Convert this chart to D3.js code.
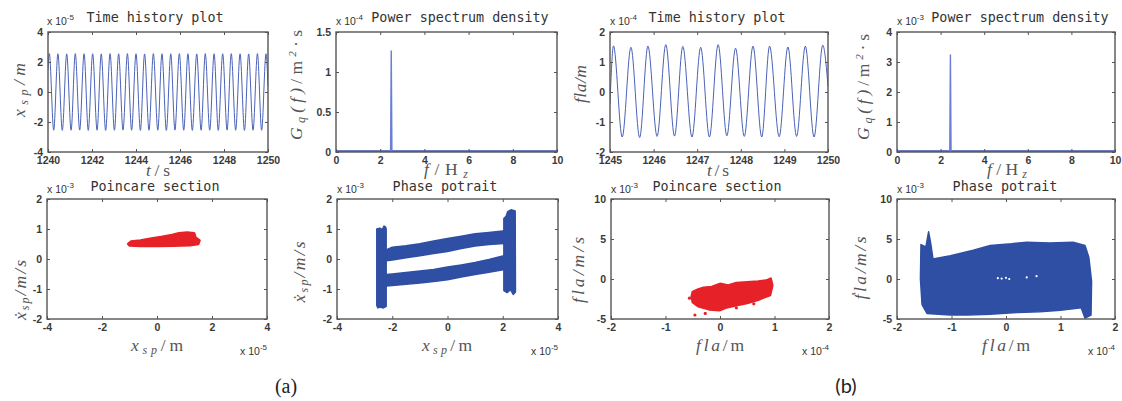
<!DOCTYPE html>
<html>
<head>
<meta charset="utf-8">
<script src="https://cdn.jsdelivr.net/npm/d3@7"></script>
<style>
  body { margin: 0; background: #fff; }
  svg { display: block; }
  .tick text { font-family: "Liberation Sans", Arial, sans-serif; font-size: 10.5px; font-weight: bold; fill: #3a3a3a; }
  .tick line { stroke: #555; }
  .title { font-family: "DejaVu Sans Mono", monospace; font-size: 13.4px; fill: #333; }
  .expo { font-family: "Liberation Sans", Arial, sans-serif; font-size: 10.5px; fill: #333; }
  .lbl { font-family: "Liberation Serif", "DejaVu Serif", serif; font-size: 17.5px; fill: #555; font-style: italic; }
  .up { font-style: normal; }
</style>
</head>
<body>
<svg id="fig" width="1122" height="401"></svg>
<script>
// ---- data ----

// time history (a), x_sp in 1e-5 m : peaks / troughs
var timeA_t = [1240.00, 1240.06, 1240.26, 1240.45, 1240.65, 1240.85, 1241.05, 1241.24, 1241.44, 1241.64,
  1241.83, 1242.03, 1242.23, 1242.42, 1242.62, 1242.82, 1243.02, 1243.21, 1243.41, 1243.61,
  1243.80, 1244.00, 1244.20, 1244.39, 1244.59, 1244.79, 1244.99, 1245.18, 1245.38, 1245.58,
  1245.77, 1245.97, 1246.17, 1246.36, 1246.56, 1246.76, 1246.96, 1247.15, 1247.35, 1247.55,
  1247.74, 1247.94, 1248.14, 1248.33, 1248.53, 1248.73, 1248.93, 1249.12, 1249.32, 1249.52,
  1249.71, 1249.91, 1250.00];
var timeA_v = [1.5, 2.56, -2.55, 2.55, -2.56, 2.54, -2.55, 2.56, -2.54, 2.55,
  -2.56, 2.55, -2.55, 2.54, -2.56, 2.56, -2.55, 2.55, -2.54, 2.56,
  -2.55, 2.55, -2.56, 2.54, -2.55, 2.56, -2.55, 2.55, -2.56, 2.55,
  -2.54, 2.56, -2.55, 2.55, -2.56, 2.54, -2.55, 2.56, -2.55, 2.55,
  -2.56, 2.55, -2.54, 2.56, -2.55, 2.55, -2.56, 2.54, -2.55, 2.56,
  -2.55, 2.55, 0.4];

// time history (b), fla in 1e-4 m
var timeB_t = [1245.00, 1245.08, 1245.28, 1245.48, 1245.68, 1245.87, 1246.08, 1246.28, 1246.48, 1246.67,
  1246.88, 1247.08, 1247.28, 1247.48, 1247.68, 1247.88, 1248.08, 1248.28, 1248.48, 1248.66,
  1248.88, 1249.08, 1249.28, 1249.48, 1249.68, 1249.88, 1250.00];
var timeB_v = [-0.4, 1.54, -1.50, 1.49, -1.52, 1.53, -1.48, 1.58, -1.47, 1.52,
  -1.50, 1.49, -1.50, 1.58, -1.46, 1.46, -1.48, 1.53, -1.50, 1.53,
  -1.49, 1.50, -1.48, 1.53, -1.50, 1.56, 0.2];

// power spectrum density
var psdA_f = [0, 2.47, 2.5, 2.53, 7.47, 7.5, 7.53, 10];
var psdA_v = [0, 0, 1.27, 0, 0, 0.01, 0, 0];   // 1e-4
var psdB_f = [0, 2.42, 2.45, 2.48, 10];
var psdB_v = [0, 0, 3.25, 0, 0];               // 1e-3

// poincare section (a): outline of the red cloud [x 1e-5, v 1e-3]
var poincareA = [[-1.05, 0.50], [-0.95, 0.58], [-0.6, 0.62], [-0.2, 0.68], [0.2, 0.74], [0.55, 0.80],
  [0.8, 0.86], [1.1, 0.88], [1.35, 0.86], [1.4, 0.72], [1.55, 0.62], [1.5, 0.50], [1.2, 0.46],
  [0.6, 0.44], [0, 0.43], [-0.6, 0.43], [-1.0, 0.45]];

// phase portrait (a)
var phaseA_left = [[-2.56, -1.55], [-2.56, 1.0], [-2.45, 1.03], [-2.36, 0.98], [-2.3, 1.1], [-2.24, 1.06],
  [-2.22, 1.0], [-2.22, -1.58], [-2.32, -1.63], [-2.45, -1.6], [-2.52, -1.63]];
var phaseA_right = [[2.04, -1.05], [2.04, 1.35], [2.12, 1.42], [2.18, 1.58], [2.3, 1.64], [2.45, 1.6],
  [2.46, -1.1], [2.38, -1.18], [2.28, -1.02], [2.16, -1.12]];
var phaseA_upper = [[-2.22, 0.30], [-2.0, 0.39], [-1.5, 0.44], [-1.0, 0.51], [-0.5, 0.60], [0, 0.68],
  [0.5, 0.76], [1.0, 0.84], [1.5, 0.88], [2.0, 0.93], [2.06, 0.93], [2.06, 0.52], [1.5, 0.48],
  [1.0, 0.43], [0.5, 0.35], [0, 0.25], [-0.5, 0.18], [-1.0, 0.11], [-1.5, 0.04], [-2.0, -0.03],
  [-2.22, -0.06]];
var phaseA_lower = [[-2.22, -0.52], [-2.0, -0.50], [-1.5, -0.45], [-1.0, -0.40], [-0.5, -0.35], [0, -0.27],
  [0.5, -0.20], [1.0, -0.12], [1.5, -0.02], [2.0, 0.10], [2.06, 0.12], [2.06, -0.35], [1.5, -0.44],
  [1.0, -0.52], [0.5, -0.60], [0, -0.69], [-0.5, -0.75], [-1.0, -0.80], [-1.5, -0.84], [-2.0, -0.88],
  [-2.22, -0.90]];

// poincare section (b) [x 1e-4, v 1e-3]
var poincareB = [[-0.52, -2.2], [-0.5, -1.6], [-0.4, -1.3], [-0.3, -1.1], [-0.15, -1.0], [0, -0.6],
  [0.15, -0.8], [0.3, -0.5], [0.5, -0.4], [0.7, -0.3], [0.85, -0.2], [0.93, 0.05], [0.96, -0.8],
  [0.92, -2.0], [0.7, -2.6], [0.5, -3.0], [0.3, -3.3], [0.1, -3.6], [0, -3.9], [-0.2, -3.8],
  [-0.4, -3.4], [-0.5, -2.9]];
var poincareB_dots = [[-0.46, -4.5], [-0.27, -4.3], [-0.56, -2.4], [0.3, -3.6], [0.62, -3.1]];

// phase portrait (b)
var phaseB = [[-1.56, 4.3], [-1.47, 4.0], [-1.42, 5.9], [-1.38, 4.4], [-1.34, 2.5], [-1.02, 2.9],
  [-0.6, 3.6], [-0.29, 4.2], [0.1, 4.4], [0.38, 4.6], [0.8, 4.5], [1.23, 4.6], [1.45, 4.2],
  [1.52, 2.7], [1.57, -0.3], [1.56, -4.5], [1.45, -4.9], [1.38, -3.6], [1.0, -3.9], [0.62, -4.1],
  [0.2, -4.2], [-0.29, -4.4], [-0.7, -4.5], [-1.02, -4.5], [-1.45, -4.3], [-1.54, -3.2], [-1.57, 0]];
var phaseB_holes = [[-0.15, 0.1], [-0.08, 0.05], [0.0, 0.15], [0.06, 0.0], [0.38, 0.2], [0.56, 0.35]];

// tick labels
var ticksTA = [1240, 1242, 1244, 1246, 1248, 1250];
var ticksTB = [1245, 1246, 1247, 1248, 1249, 1250];
var ticksF = [0, 2, 4, 6, 8, 10];
var ticksX4 = [-4, -2, 0, 2, 4];
var ticksX2 = [-2, -1, 0, 1, 2];
var ticksY4 = [-4, -2, 0, 2, 4];
var ticksY2 = [-2, -1, 0, 1, 2];
var ticksPsdA = [0, 0.5, 1, 1.5];
var ticksPsdB = [0, 1, 2, 3, 4];
var ticksV10 = [-5, 0, 5, 10];

var svg = d3.select("#fig");
var blue = "#2e4fa3";
var red = "#e62228";
var clipN = 0;

function makePanel(b, xDom, yDom) {
  var w = b[2] - b[0], h = b[3] - b[1];
  var g = svg.append("g").attr("transform", "translate(" + b[0] + "," + b[1] + ")");
  var id = "clip" + (clipN++);
  g.append("clipPath").attr("id", id).append("rect").attr("width", w).attr("height", h);
  var plot = g.append("g").attr("clip-path", "url(#" + id + ")");
  return {
    g: g, plot: plot, w: w, h: h,
    x: d3.scaleLinear().domain(xDom).range([0, w]),
    y: d3.scaleLinear().domain(yDom).range([h, 0])
  };
}

function frame(p, xt, yt) {
  var fmt = function (d) { return String(d); };
  p.g.append("g").attr("transform", "translate(0," + p.h + ")")
    .call(d3.axisBottom(p.x).tickValues(xt).tickSizeInner(-3).tickSizeOuter(0).tickPadding(5).tickFormat(fmt));
  p.g.append("g")
    .call(d3.axisLeft(p.y).tickValues(yt).tickSizeInner(-3).tickSizeOuter(0).tickPadding(5).tickFormat(fmt));
  p.g.append("g")
    .call(d3.axisTop(p.x).tickValues(xt).tickSizeInner(-3).tickSizeOuter(0).tickFormat(""));
  p.g.append("g").attr("transform", "translate(" + p.w + ",0)")
    .call(d3.axisRight(p.y).tickValues(yt).tickSizeInner(-3).tickSizeOuter(0).tickFormat(""));
  p.g.selectAll(".domain").remove();
  p.g.selectAll(".tick text").attr("font-family", null).attr("font-size", null);
  p.g.append("rect").attr("width", p.w).attr("height", p.h)
    .attr("fill", "none").attr("stroke", "#555").attr("stroke-width", 1.4);
}

function expo(x, y, pw, anchor) {
  var t = svg.append("text").attr("class", "expo").attr("x", x).attr("y", y).attr("text-anchor", anchor || "start");
  t.append("tspan").text("x 10");
  t.append("tspan").attr("dy", -5).attr("font-size", "8px").text(pw);
}

function title(cx, y, s) {
  svg.append("text").attr("class", "title").attr("x", cx).attr("y", y)
    .attr("text-anchor", "middle").text(s);
}

// parts: [text, kind]  "" italic, "up" upright, "sub", "sup"
function label(x, y, parts, len, rot) {
  var t = svg.append("text").attr("class", "lbl").attr("text-anchor", "middle")
    .attr("transform", "translate(" + x + "," + y + ")" + (rot ? " rotate(-90)" : ""))
    .attr("textLength", len).attr("lengthAdjust", "spacing");
  var shift = 0;
  parts.forEach(function (pt) {
    var s = t.append("tspan").text(pt[0]);
    var dy = 0;
    if (pt[1] === "sub") { dy = 3; s.attr("font-size", "12px"); }
    if (pt[1] === "sup") { dy = -6; s.attr("font-size", "11px"); }
    if (pt[1] === "up") s.attr("class", "up");
    s.attr("dy", dy - shift);
    shift = dy;
  });
}

function poly(p, pts, color, sw) {
  var line = d3.line().x(function (d) { return p.x(d[0]); }).y(function (d) { return p.y(d[1]); });
  p.plot.append("path").attr("d", line(pts) + "Z")
    .attr("fill", color).attr("stroke", color).attr("stroke-width", sw || 1.5)
    .attr("stroke-linejoin", "round");
}

function dots(p, pts, color, r) {
  p.plot.selectAll(null).data(pts).enter().append("circle")
    .attr("cx", function (d) { return p.x(d[0]); })
    .attr("cy", function (d) { return p.y(d[1]); })
    .attr("r", r).attr("fill", color);
}

function series(p, ts, vs, color, sw, curve) {
  var line = d3.line().x(function (d) { return p.x(d[0]); }).y(function (d) { return p.y(d[1]); }).curve(curve);
  p.plot.append("path").datum(d3.zip(ts, vs)).attr("d", line)
    .attr("fill", "none").attr("stroke", color).attr("stroke-width", sw);
}

// ---- (a) top row ----
var p1 = makePanel([48, 32, 268, 152], [1240, 1250], [-4, 4]);
series(p1, timeA_t, timeA_v, "#4a62b8", 1, d3.curveMonotoneX);
frame(p1, ticksTA, ticksY4);

var p2 = makePanel([336, 32, 557, 152], [0, 10], [0, 1.5]);
p2.plot.append("line").attr("x1", 0).attr("x2", p2.w).attr("y1", p2.h - 0.5).attr("y2", p2.h - 0.5)
  .attr("stroke", "#3a52a8").attr("stroke-width", 2.5);
series(p2, psdA_f, psdA_v, "#6a7fd3", 1.4, d3.curveLinear);
frame(p2, ticksF, ticksPsdA);

// ---- (b) top row ----
var p3 = makePanel([610, 32, 828, 152], [1245, 1250], [-2, 2]);
series(p3, timeB_t, timeB_v, "#4a62b8", 1, d3.curveMonotoneX);
frame(p3, ticksTB, ticksY2);

var p4 = makePanel([897, 32, 1115, 152], [0, 10], [0, 4]);
p4.plot.append("line").attr("x1", 0).attr("x2", p4.w).attr("y1", p4.h - 0.5).attr("y2", p4.h - 0.5)
  .attr("stroke", "#3a52a8").attr("stroke-width", 2.5);
series(p4, psdB_f, psdB_v, "#6a7fd3", 1.4, d3.curveLinear);
frame(p4, ticksF, ticksPsdB);

// ---- bottom row ----
var p5 = makePanel([47, 199, 267, 319], [-4, 4], [-2, 2]);
poly(p5, poincareA, red, 2.5);
frame(p5, ticksX4, ticksY2);

var p6 = makePanel([337, 199, 558, 319], [-4, 4], [-2, 2]);
[phaseA_left, phaseA_right, phaseA_upper, phaseA_lower].forEach(function (pts) { poly(p6, pts, blue, 1.5); });
frame(p6, ticksX4, ticksY2);

var p7 = makePanel([611, 199, 829, 319], [-2, 2], [-5, 10]);
poly(p7, poincareB, red, 2.5);
dots(p7, poincareB_dots, red, 1.6);
frame(p7, ticksX2, ticksV10);

var p8 = makePanel([897, 199, 1115, 319], [-2, 2], [-5, 10]);
poly(p8, phaseB, blue, 1.5);
dots(p8, phaseB_holes, "#fff", 1.1);
frame(p8, ticksX2, ticksV10);

// ---- texts ----
title(155, 21.5, "Time history plot");
title(460, 21.5, "Power spectrum density");
title(717, 21.5, "Time history plot");
title(1020, 21.5, "Power spectrum density");
title(155, 191, "Poincare section");
title(445, 191, "Phase potrait");
title(717, 191, "Poincare section");
title(1005, 191, "Phase potrait");

expo(47, 25, "-5"); expo(336, 25, "-4"); expo(610, 25, "-4"); expo(897, 25, "-3");
expo(47, 193, "-3"); expo(337, 193, "-3"); expo(611, 193, "-3"); expo(897, 193, "-3");
expo(267, 355, "-5", "end"); expo(558, 355, "-5", "end"); expo(829, 355, "-4", "end"); expo(1115, 355, "-4", "end");

// x labels
label(158, 176, [["t", ""], ["/s", "up"]], 24);
label(446, 175, [["f", ""], ["/H", "up"], ["z", "sub"]], 44);
label(718, 176, [["t", ""], ["/s", "up"]], 22);
label(1007, 175, [["f", ""], ["/H", "up"], ["z", "sub"]], 40);
label(157, 351, [["x", ""], ["sp", "sub"], ["/m", "up"]], 52);
label(447, 351, [["x", ""], ["sp", "sub"], ["/m", "up"]], 50);
label(720, 351, [["fla", ""], ["/m", "up"]], 48);
label(1006, 351, [["fla", ""], ["/m", "up"]], 48);

// y labels
label(25, 90, [["x", ""], ["sp", "sub"], ["/m", ""]], 54, true);
label(302, 85, [["G", ""], ["q", "sub"], ["(f)", ""], ["/m", "up"], ["2", "sup"], ["\u00b7s", "up"]], 110, true);
label(586, 84, [["fla/m", ""]], 38, true);
label(869, 87, [["G", ""], ["q", "sub"], ["(f)", ""], ["/m", "up"], ["2", "sup"], ["\u00b7s", "up"]], 106, true);
label(26, 290, [["\u1e8b", ""], ["sp", "sub"], ["/m/s", ""]], 60, true);
label(305, 272, [["\u1e8b", ""], ["sp", "sub"], ["/m/s", ""]], 61, true);
label(584, 270, [["fla/m/s", ""]], 66, true);
label(866, 268, [["\u1e1fla/m/s", ""]], 63, true);

// panel letters
svg.append("text").attr("x", 286).attr("y", 393).attr("text-anchor", "middle")
  .attr("font-family", "Liberation Serif, serif").attr("font-size", 20).attr("fill", "#222").text("(a)");
svg.append("text").attr("x", 846).attr("y", 393).attr("text-anchor", "middle")
  .attr("font-family", "Lato, sans-serif").attr("font-size", 20).attr("fill", "#222").text("(b)");
</script>
</body>
</html>
